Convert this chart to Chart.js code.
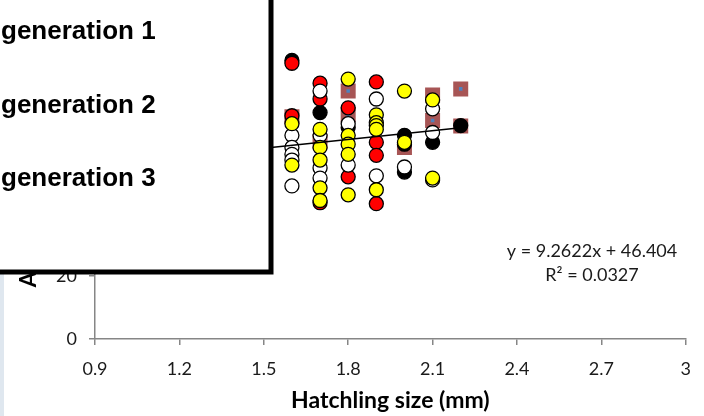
<!DOCTYPE html>
<html>
<head>
<meta charset="utf-8">
<script src="https://cdn.jsdelivr.net/npm/chart.js@4.4.1/dist/chart.umd.min.js"></script>
<style>
  html, body { margin: 0; padding: 0; background: #fff; }
  #wrap { position: relative; width: 704px; height: 416px; overflow: hidden; }
</style>
</head>
<body>
<div id="wrap"><canvas id="myChart" width="704" height="416"></canvas></div>
<script>
// values: [hatchling size, y value]
const blackPts = [[1.6, 88.1], [1.7, 71.6], [1.8, 66.9], [2.0, 64.4], [2.0, 61.6], [2.0, 52.8], [2.1, 62.2], [2.2, 67.5]];
const redPts = [[1.6, 87.2], [1.6, 70.6], [1.7, 80.9], [1.7, 75.9], [1.7, 43.1], [1.8, 73.1], [1.8, 51.3],
    [1.9, 81.3], [1.9, 62.2], [1.9, 58.1], [1.9, 42.8]];
const whitePts = [[1.6, 64.4], [1.6, 60.6], [1.6, 58.4], [1.6, 56.6], [1.6, 48.4], [1.7, 78.4], [1.7, 64.4],
    [1.7, 54.1], [1.7, 50.9], [1.8, 68.1], [1.8, 55.0], [1.9, 75.9], [1.9, 51.6], [2.0, 54.4],
    [2.1, 72.8], [2.1, 65.3], [2.1, 50.3]];
const yellowPts = [[1.6, 68.1], [1.6, 55.0], [1.7, 66.3], [1.7, 60.6], [1.7, 56.6], [1.7, 47.8], [1.7, 43.8],
    [1.8, 82.2], [1.8, 64.4], [1.8, 61.6], [1.8, 58.4], [1.8, 45.6], [1.9, 70.9], [1.9, 68.4],
    [1.9, 67.5], [1.9, 66.3], [1.9, 47.2], [2.0, 78.4], [2.0, 62.2], [2.1, 75.6], [2.1, 50.9]];
const squarePts = [[1.6, 70.3], [1.7, 62.5], [1.8, 78.4], [1.8, 70.9], [2.0, 60.6], [2.1, 77.2], [2.1, 69.1],
    [2.2, 79.1], [2.2, 67.4]];
const trendPts = [[1.5, 60.3], [2.2, 66.8]];

const legendLabels = ["generation 1", "generation 2", "generation 3"];
const equationLines = ["y = 9.2622x + 46.404", "R² = 0.0327"];
const xTicks = [0.9, 1.2, 1.5, 1.8, 2.1, 2.4, 2.7, 3];
const yTicks = [0, 20, 40, 60, 80, 100];

const toXY = arr => arr.map(p => ({ x: p[0], y: p[1] }));

function circles(label, pts, fill) {
    return {
        label: label,
        data: toXY(pts),
        pointStyle: 'circle',
        pointRadius: 7,
        pointHoverRadius: 7,
        pointBackgroundColor: fill,
        pointBorderColor: '#000',
        pointBorderWidth: 1.3,
        showLine: false
    };
}

// extra drawing: strip at the left edge, the overlapping legend box, trendline label
const extras = {
    id: 'extras',
    beforeDraw(chart) {
        const ctx = chart.ctx;
        ctx.save();
        ctx.fillStyle = '#dfe7ef';
        ctx.fillRect(0, 0, 4, chart.height);
        ctx.restore();
    },
    afterDraw(chart) {
        const ctx = chart.ctx;
        ctx.save();
        ctx.fillStyle = '#fff';
        ctx.fillRect(-10, -10, 281, 282);
        ctx.strokeStyle = '#000';
        ctx.lineWidth = 5;
        ctx.strokeRect(-10, -10, 281, 282);

        ctx.fillStyle = '#000';
        ctx.font = 'bold 26px "Liberation Sans", Arial, sans-serif';
        ctx.textAlign = 'left';
        ctx.textBaseline = 'alphabetic';
        legendLabels.forEach((t, i) => ctx.fillText(t, 1, 39 + i * 73.5));

        ctx.font = '18px Lato, sans-serif';
        ctx.textAlign = 'center';
        ctx.textBaseline = 'middle';
        ctx.fillStyle = '#1a1a1a';
        ctx.fillText(equationLines[0], 592, 251);
        ctx.fillText(equationLines[1], 592, 275);
        ctx.restore();
    }
};

const axisColor = '#868686';

let config = {
    type: 'scatter',
    data: {
        datasets: [
            {
                label: 'trend',
                data: toXY(trendPts),
                showLine: true,
                borderColor: '#000',
                borderWidth: 1.5,
                pointRadius: 0,
                pointHoverRadius: 0
            },
            circles('yellow', yellowPts, '#ffff00'),
            circles('white', whitePts, '#ffffff'),
            circles('red', redPts, '#ff0000'),
            circles('black', blackPts, '#000000'),
            {
                label: 'marks',
                data: toXY(squarePts),
                pointStyle: 'rect',
                pointRadius: 2.5,
                pointBackgroundColor: '#4f81bd',
                pointBorderWidth: 0,
                showLine: false
            },
            {
                label: 'squares',
                data: toXY(squarePts),
                pointStyle: 'rect',
                pointRadius: 10.6,
                pointBackgroundColor: 'rgba(160, 70, 70, 0.92)',
                pointBorderWidth: 0,
                showLine: false
            }
        ]
    },
    options: {
        responsive: false,
        animation: false,
        events: [],
        layout: { padding: { top: 19, right: 15, left: 0, bottom: 0 } },
        plugins: {
            legend: { display: false },
            tooltip: { enabled: false }
        },
        scales: {
            x: {
                type: 'linear',
                min: 0.9,
                max: 3,
                afterBuildTicks: s => { s.ticks = xTicks.map(v => ({ value: v })); },
                afterFit: s => { s.height = 77; },
                grid: { drawOnChartArea: false, drawTicks: true, tickLength: 6, color: axisColor, lineWidth: 1.5 },
                border: { color: axisColor, width: 1.5 },
                ticks: {
                    padding: 13,
                    color: '#1a1a1a',
                    font: { family: 'Lato', size: 18 },
                    callback: v => String(v)
                },
                title: {
                    display: true,
                    text: 'Hatchling size (mm)',
                    color: '#000',
                    font: { family: 'Lato', size: 23, weight: 'bold' },
                    padding: { top: 0, bottom: 2 }
                }
            },
            y: {
                type: 'linear',
                min: 0,
                max: 100,
                afterBuildTicks: s => { s.ticks = yTicks.map(v => ({ value: v })); },
                afterFit: s => { s.width = 95; },
                grid: { drawOnChartArea: false, drawTicks: true, tickLength: 6, color: axisColor, lineWidth: 1.5 },
                border: { color: axisColor, width: 1.5 },
                ticks: {
                    padding: 12,
                    color: '#1a1a1a',
                    font: { family: 'Lato', size: 18 }
                },
                title: {
                    display: true,
                    text: 'Age at maturity (days)',
                    color: '#000',
                    font: { family: 'Lato', size: 22, weight: 'bold' },
                    padding: { top: 16, bottom: 0 }
                }
            }
        }
    },
    plugins: [extras]
};

let myChart = new Chart(document.getElementById('myChart'), config);
</script>
</body>
</html>
